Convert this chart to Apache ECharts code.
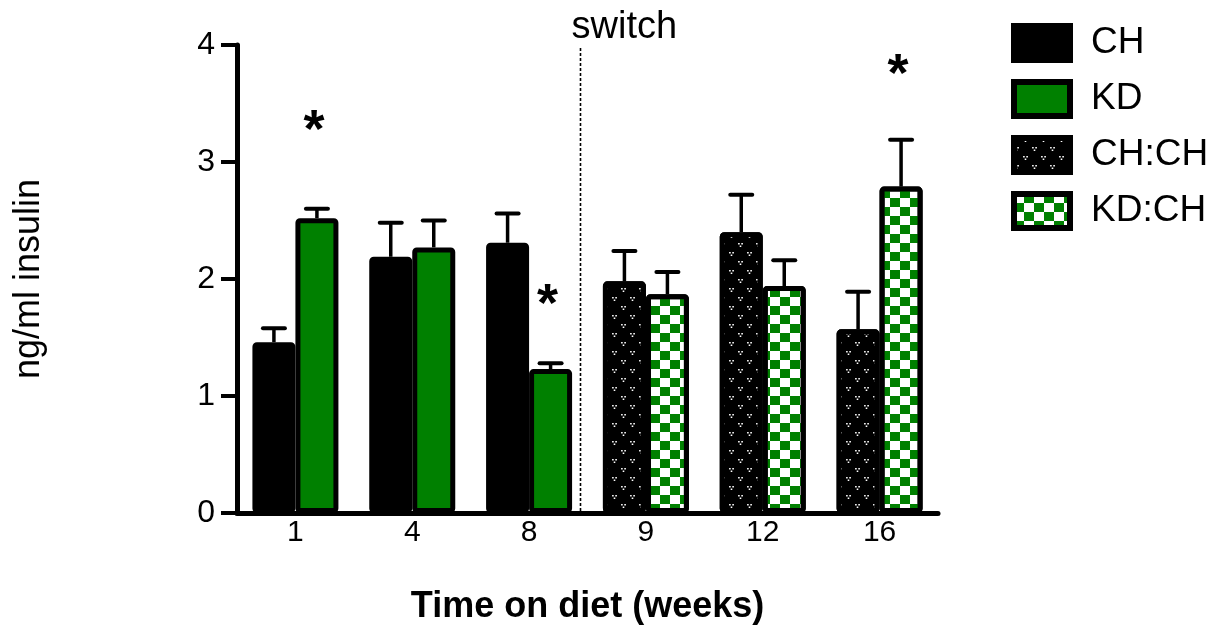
<!DOCTYPE html>
<html>
<head>
<meta charset="utf-8">
<script src="https://cdn.jsdelivr.net/npm/echarts@6/dist/echarts.min.js"></script>
<style>
  html, body { margin: 0; padding: 0; background: #fff; }
  #chart { width: 1219px; height: 630px; }
</style>
</head>
<body>
<div id="chart"></div>
<script>
// weeks on diet
const weeks = ["1", "4", "8", "9", "12", "16"];

// mean insulin (ng/ml); '-' where the group was not measured
const chValues = [1.46, 2.19, 2.31, "-", "-", "-"];
const kdValues = [2.52, 2.27, 1.23, "-", "-", "-"];
const chchValues = ["-", "-", "-", 1.98, 2.40, 1.57];
const kdchValues = ["-", "-", "-", 1.87, 1.94, 2.79];

// SEM, upper whisker only (left bar / right bar per week)
const leftSem = [0.12, 0.29, 0.25, 0.26, 0.32, 0.32];
const rightSem = [0.08, 0.23, 0.05, 0.19, 0.22, 0.40];

// significance marks: week index and height of the star
const starWeekIdx = [0, 2, 5];
const starY = [3.32, 1.84, 3.80];

const switchAfterIdx = 2; // diet switched after week 8

const GREEN = "#008000";
const FONT = "'Liberation Sans', Arial, Helvetica, sans-serif";
const BAR_W = 43;

const chart = echarts.init(document.getElementById("chart"), null, { renderer: "canvas" });

function pick(values, i) {
  return values[i] === "-" ? null : values[i];
}

const leftMeans = weeks.map((_, i) => pick(chValues, i) ?? pick(chchValues, i));
const rightMeans = weeks.map((_, i) => pick(kdValues, i) ?? pick(kdchValues, i));

const errData = [];
weeks.forEach((_, i) => {
  errData.push([i, leftMeans[i], leftMeans[i] + leftSem[i], -1]);
  errData.push([i, rightMeans[i], rightMeans[i] + rightSem[i], 1]);
});

const barBase = {
  type: "bar",
  barWidth: BAR_W,
  barGap: "0%",
};

function errorBars(params, api) {
  const i = api.value(0);
  const side = api.value(3);
  const base = api.coord([i, api.value(1)]);
  const top = api.coord([i, api.value(2)]);
  const x = base[0] + side * BAR_W / 2;
  return {
    type: "group",
    children: [
      { type: "line", shape: { x1: x, y1: base[1], x2: x, y2: top[1] }, style: { stroke: "#000", lineWidth: 3.5 } },
      { type: "line", shape: { x1: x - 11, y1: top[1], x2: x + 11, y2: top[1] }, style: { stroke: "#000", lineWidth: 4, lineCap: "round" } },
    ],
  };
}

function stars(params, api) {
  const pt = api.coord([api.value(0), api.value(1)]);
  return {
    type: "text",
    style: {
      text: "*",
      x: pt[0] + BAR_W / 2 - 3,
      y: pt[1] + 8,
      align: "center",
      verticalAlign: "middle",
      font: "bold 54px " + FONT,
      fill: "#000",
    },
  };
}

function switchLine(params, api) {
  const i = api.value(0);
  const band = api.size([1, 0])[0];
  const bottom = api.coord([i, 0]);
  const top = api.coord([i, 4]);
  const x = bottom[0] + band / 2 - 7;
  return {
    type: "group",
    children: [
      { type: "line", shape: { x1: x, y1: top[1] + 3, x2: x, y2: bottom[1] }, style: { stroke: "#000", lineWidth: 1.6, lineDash: [3, 2] } },
      { type: "text", style: { text: "switch", x: x - 9, y: top[1] - 17, align: "left", verticalAlign: "middle", font: "38px " + FONT, fill: "#000" } },
    ],
  };
}

chart.setOption({
  animation: false,
  backgroundColor: "#fff",
  grid: { left: 237, right: 281, top: 45, bottom: 116, containLabel: false },
  legend: {
    orient: "vertical",
    left: 1011,
    top: 23,
    padding: 0,
    icon: "rect",
    itemWidth: 56,
    itemHeight: 34,
    itemGap: 16,
    selectedMode: false,
    data: ["CH", "KD", "CH:CH", "KD:CH"],
    itemStyle: { borderColor: "#000", borderWidth: 6 },
    textStyle: { color: "#000", fontFamily: FONT, fontSize: 37, lineHeight: 40, padding: [0, 0, 0, 16] },
  },
  xAxis: {
    type: "category",
    data: weeks,
    boundaryGap: true,
    name: "Time on diet (weeks)",
    nameLocation: "middle",
    nameGap: 76,
    nameTextStyle: { color: "#000", fontFamily: FONT, fontSize: 36, fontWeight: "bold" },
    axisLine: { lineStyle: { color: "#000", width: 5 } },
    axisTick: { alignWithLabel: true, length: 12, lineStyle: { color: "#000", width: 4 } },
    axisLabel: { color: "#000", fontFamily: FONT, fontSize: 30, margin: 5 },
    splitLine: { show: false },
  },
  yAxis: {
    type: "value",
    min: 0,
    max: 4,
    interval: 1,
    name: "ng/ml insulin",
    nameLocation: "middle",
    nameGap: 190,
    nameRotate: 90,
    nameTextStyle: { color: "#000", fontFamily: FONT, fontSize: 36 },
    axisLine: { show: true, lineStyle: { color: "#000", width: 5 } },
    axisTick: { show: true, length: 16, lineStyle: { color: "#000", width: 4 } },
    axisLabel: { color: "#000", fontFamily: FONT, fontSize: 32, margin: 22 },
    splitLine: { show: false },
  },
  series: [
    {
      ...barBase,
      name: "CH",
      stack: "left",
      data: chValues,
      itemStyle: { color: "#000", borderColor: "#000", borderWidth: 5, borderRadius: 2 },
    },
    {
      ...barBase,
      name: "KD",
      stack: "right",
      data: kdValues,
      itemStyle: { color: GREEN, borderColor: "#000", borderWidth: 5, borderRadius: 2 },
    },
    {
      ...barBase,
      name: "CH:CH",
      stack: "left",
      data: chchValues,
      itemStyle: {
        color: "#000",
        borderColor: "#000",
        borderWidth: 5,
        borderRadius: 2,
        decal: {
          symbol: "path://M0,0h1v1h-1z M2,0h1v1h-1z M1,1.5h1v1h-1z",
          symbolSize: 1,
          color: "#fff",
          dashArrayX: [[5, 13], [0, 9, 5, 4]],
          dashArrayY: [4, 5],
        },
      },
    },
    {
      ...barBase,
      name: "KD:CH",
      stack: "right",
      data: kdchValues,
      itemStyle: {
        color: "#fff",
        borderColor: "#000",
        borderWidth: 5,
        borderRadius: 2,
        decal: {
          symbol: "rect",
          symbolSize: 1,
          color: GREEN,
          dashArrayX: [[10, 10], [0, 10, 10, 0]],
          dashArrayY: [9, 0],
        },
      },
    },
    {
      type: "custom",
      name: "sem",
      renderItem: errorBars,
      data: errData,
      encode: { x: 0, y: [1, 2] },
      z: 1,
      silent: true,
    },
    {
      type: "custom",
      name: "stars",
      renderItem: stars,
      data: starWeekIdx.map((idx, k) => [idx, starY[k]]),
      encode: { x: 0, y: 1 },
      silent: true,
    },
    {
      type: "custom",
      name: "switch",
      renderItem: switchLine,
      data: [[switchAfterIdx, 0]],
      encode: { x: 0, y: 1 },
      clip: false,
      silent: true,
    },
  ],
});
</script>
</body>
</html>
